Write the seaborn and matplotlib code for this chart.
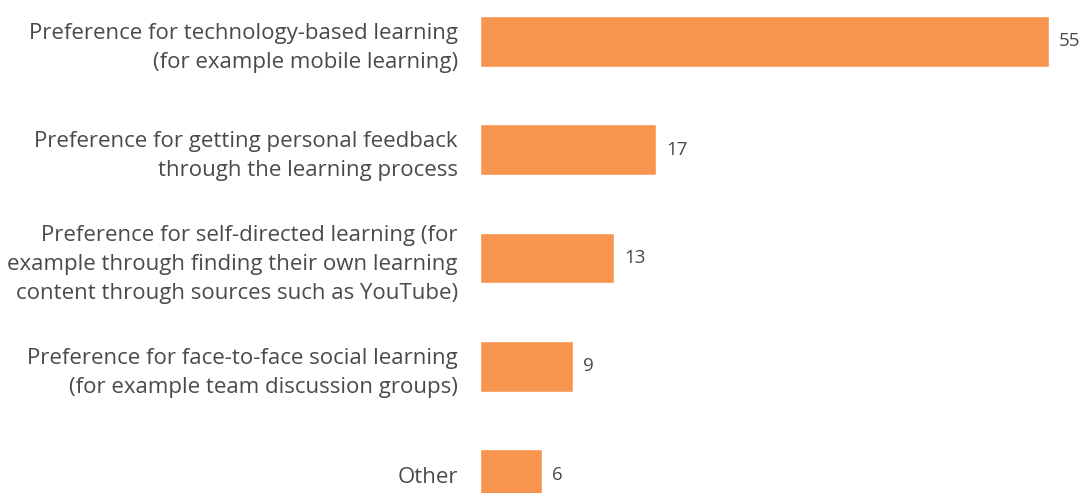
import matplotlib
matplotlib.use('Agg')
import matplotlib.pyplot as plt
import seaborn as sns
import pandas as pd

labels = ['Preference for technology-based learning\n(for example mobile learning)',
          'Preference for getting personal feedback\nthrough the learning process',
          'Preference for self-directed learning (for\nexample through finding their own learning\ncontent through sources such as YouTube)',
          'Preference for face-to-face social learning\n(for example team discussion groups)',
          'Other']
values = [55, 17, 13, 9, 6]

df = pd.DataFrame({'label': labels, 'value': values})

sns.set_style('white')
plt.rcParams['font.family'] = ['Open Sans', 'DejaVu Sans']
text_color = '#4a4a4a'

fig = plt.figure(figsize=(10.84, 4.93), dpi=100)
ax = fig.add_axes([480 / 1084, 0, 604 / 1084, 1])

sns.barplot(data=df, x='value', y='label', color='#f7954f', saturation=1,
            width=0.47, ax=ax)

ax.set_xlim(0, 58.4)
ax.set_ylim(4.166, -0.378)

for i, v in enumerate(values):
    ax.text(v + 1.0, i, str(v), va='center', ha='left', fontsize=13.5, color=text_color)

ax.set_xlabel('')
ax.set_ylabel('')
ax.set_xticks([])
ax.tick_params(axis='y', length=0, pad=16, labelsize=16, labelcolor=text_color)
for lab in ax.get_yticklabels():
    lab.set_horizontalalignment('right')
    lab.set_linespacing(1.5)
sns.despine(ax=ax, left=True, bottom=True)

fig.savefig('out.png', dpi=100)
